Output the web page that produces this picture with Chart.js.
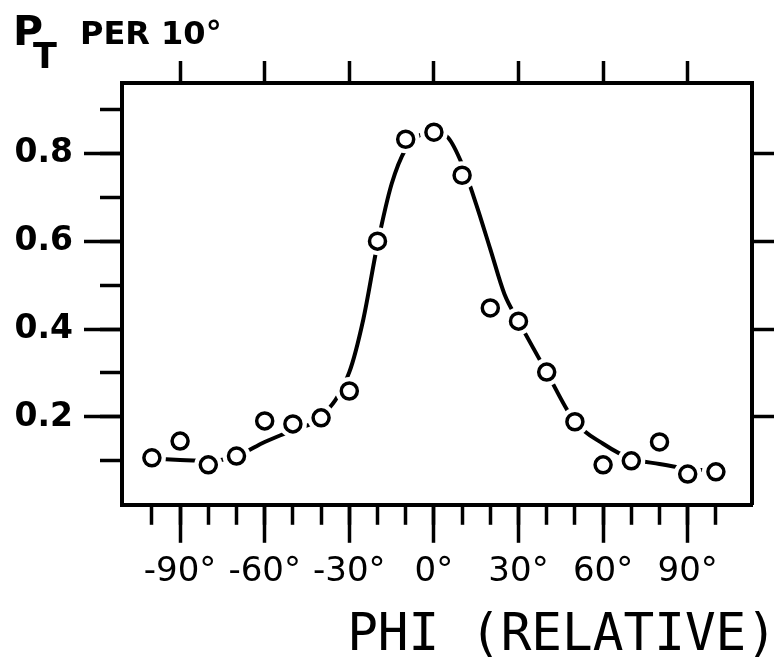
<!DOCTYPE html>
<html>
<head>
<meta charset="utf-8">
<script src="https://cdn.jsdelivr.net/npm/chart.js@4.4.0/dist/chart.umd.min.js"></script>
<style>
  html, body { margin: 0; padding: 0; background: #fff; }
</style>
</head>
<body>
<canvas id="myChart" width="782" height="667"></canvas>
<script>
// measured points (circles)
var phi = [-100, -90, -80, -70, -60, -50, -40, -30, -20, -10, 0, 10, 20, 30, 40, 50, 60, 70, 80, 90, 100];
var ptValues = [0.107, 0.145, 0.091, 0.111, 0.191, 0.184, 0.198, 0.259, 0.600, 0.832, 0.848, 0.750, 0.448, 0.418, 0.302, 0.189, 0.091, 0.100, 0.143, 0.070, 0.075];

// hand drawn smooth curve
var curvePhi = [-100, -90, -80, -70, -60, -50, -40, -30, -25, -20, -15, -10, -5, 0, 5, 10, 15, 20, 25, 30, 40, 50, 60, 70, 80, 90, 100];
var curveValues = [0.105, 0.102, 0.100, 0.111, 0.143, 0.170, 0.200, 0.302, 0.423, 0.593, 0.730, 0.810, 0.841, 0.848, 0.836, 0.775, 0.684, 0.582, 0.480, 0.418, 0.302, 0.189, 0.139, 0.105, 0.093, 0.082, 0.077];

// tick labels
var xTickLabels = [-90, -60, -30, 0, 30, 60, 90];
var yTickLabels = [0.2, 0.4, 0.6, 0.8];

var ink = '#000';
var tickFont = '"DejaVu Sans", sans-serif';

function hasValue(list, v) {
    return list.some(function(t) { return Math.abs(t - v) < 1e-6; });
}

function toPoints(xs, ys) {
    return xs.map(function(x, i) { return { x: x, y: ys[i] }; });
}

// P_T PER 10° drawn at the top left, with subscript
var yTitlePlugin = {
    id: 'yTitle',
    afterDraw: function(chart) {
        var c = chart.ctx;
        c.save();
        c.fillStyle = ink;
        c.textBaseline = 'alphabetic';
        c.textAlign = 'left';
        c.font = 'bold 41px ' + tickFont;
        c.fillText('P', 13, 45);
        c.font = 'bold 35px ' + tickFont;
        c.fillText('T', 33, 68);
        c.font = 'bold 32px ' + tickFont;
        c.fillText('PER 10°', 80, 44);
        c.restore();
    }
};

var ctx = document.getElementById('myChart').getContext('2d');

var myChart = new Chart(ctx, {
    type: 'scatter',
    data: {
        datasets: [
            {
                label: 'measured',
                data: toPoints(phi, ptValues),
                showLine: false,
                pointRadius: 8,
                pointBorderWidth: 3.5,
                pointBorderColor: ink,
                pointBackgroundColor: '#fff',
                order: 1
            },
            {
                // white rings that break the curve around each circle
                label: 'gap',
                data: toPoints(phi, ptValues),
                showLine: false,
                pointRadius: 14,
                pointBorderWidth: 0,
                pointBackgroundColor: '#fff',
                order: 2
            },
            {
                label: 'curve',
                type: 'line',
                data: toPoints(curvePhi, curveValues),
                borderColor: ink,
                borderWidth: 4,
                pointRadius: 0,
                fill: false,
                cubicInterpolationMode: 'monotone',
                order: 3
            }
        ]
    },
    options: {
        responsive: false,
        animation: false,
        layout: { padding: { left: 0, right: 5, top: 0, bottom: 0 } },
        plugins: {
            legend: { display: false },
            tooltip: { enabled: false },
            title: {
                display: true,
                position: 'bottom',
                align: 'end',
                text: 'PHI (RELATIVE)',
                color: ink,
                font: { family: '"DejaVu Sans Mono", monospace', size: 51, weight: 'normal' },
                padding: { top: 11, bottom: 0 }
            }
        },
        scales: {
            x: {
                type: 'linear',
                position: 'bottom',
                weight: 1,
                min: -110.6,
                max: 112.8,
                afterFit: function(s) { s.height = 90; },
                border: { display: true, color: ink, width: 4 },
                grid: { drawOnChartArea: false, drawTicks: true, tickLength: 38, tickWidth: 3.5, tickColor: ink },
                ticks: {
                    stepSize: 30,
                    includeBounds: false,
                    autoSkip: false,
                    maxRotation: 0,
                    padding: 9,
                    color: ink,
                    font: { family: tickFont, size: 34 },
                    callback: function(v) { return hasValue(xTickLabels, v) ? v + '°' : ''; }
                }
            },
            xMinor: {
                type: 'linear',
                position: 'bottom',
                weight: 0,
                min: -110.6,
                max: 112.8,
                afterFit: function(s) { s.height = 0; },
                border: { display: true, color: ink, width: 4 },
                grid: {
                    drawOnChartArea: false, drawTicks: true, tickLength: 20, tickWidth: 3.5,
                    tickColor: function(c) { return Math.abs(c.tick.value) <= 100 ? ink : 'rgba(0,0,0,0)'; }
                },
                ticks: { display: false, stepSize: 10, includeBounds: false, autoSkip: false }
            },
            xTop: {
                type: 'linear',
                position: 'top',
                min: -110.6,
                max: 112.8,
                afterFit: function(s) { s.height = 83; },
                border: { display: true, color: ink, width: 4 },
                grid: { drawOnChartArea: false, drawTicks: true, tickLength: 22, tickWidth: 3.5, tickColor: ink },
                ticks: { display: false, stepSize: 30, includeBounds: false, autoSkip: false }
            },
            y: {
                type: 'linear',
                position: 'left',
                weight: 1,
                min: 0,
                max: 0.96,
                afterFit: function(s) { s.width = 122; },
                border: { display: true, color: ink, width: 4 },
                grid: {
                    drawOnChartArea: false, drawTicks: true, tickLength: 38, tickWidth: 3.5,
                    tickColor: function(c) { return c.tick.value > 0.01 ? ink : 'rgba(0,0,0,0)'; }
                },
                ticks: {
                    stepSize: 0.2,
                    includeBounds: false,
                    autoSkip: false,
                    padding: 11,
                    color: ink,
                    font: { family: tickFont, size: 33, weight: 'bold' },
                    callback: function(v) { return hasValue(yTickLabels, v) ? v.toFixed(1) : ''; }
                }
            },
            yMinor: {
                type: 'linear',
                position: 'left',
                weight: 0,
                min: 0,
                max: 0.96,
                afterFit: function(s) { s.width = 0; },
                border: { display: true, color: ink, width: 4 },
                grid: {
                    drawOnChartArea: false, drawTicks: true, tickLength: 22, tickWidth: 3.5,
                    tickColor: function(c) { return c.tick.value > 0.01 ? ink : 'rgba(0,0,0,0)'; }
                },
                ticks: { display: false, stepSize: 0.1, includeBounds: false, autoSkip: false }
            },
            yRight: {
                type: 'linear',
                position: 'right',
                min: 0,
                max: 0.96,
                afterFit: function(s) { s.width = 25; },
                border: { display: true, color: ink, width: 4 },
                grid: {
                    drawOnChartArea: false, drawTicks: true, tickLength: 22, tickWidth: 3.5,
                    tickColor: function(c) { return c.tick.value > 0.01 ? ink : 'rgba(0,0,0,0)'; }
                },
                ticks: { display: false, stepSize: 0.2, includeBounds: false, autoSkip: false }
            }
        }
    },
    plugins: [yTitlePlugin]
});
</script>
</body>
</html>
